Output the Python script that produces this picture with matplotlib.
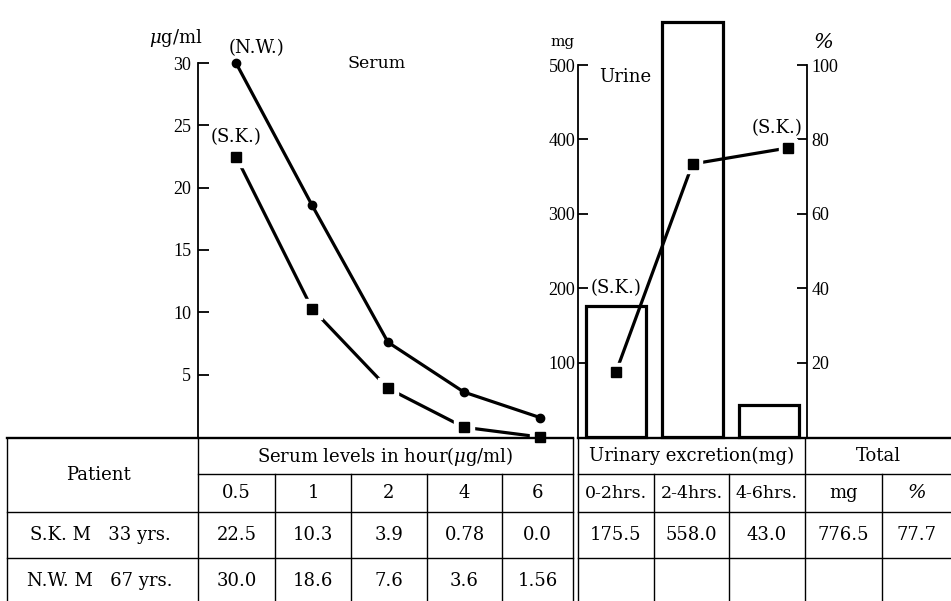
import matplotlib
matplotlib.use('Agg')
import matplotlib.pyplot as plt

# data
hours = ['0.5', '1', '2', '4', '6']
serum_sk = [22.5, 10.3, 3.9, 0.78, 0.0]
serum_nw = [30.0, 18.6, 7.6, 3.6, 1.56]
urine_periods = ['0-2hrs.', '2-4hrs.', '4-6hrs.']
urine_sk = [175.5, 558.0, 43.0]
pct_x = [0, 1, 2.25]          # where the cumulative % points sit
pct_sk = [17.6, 73.4, 77.7]
total_mg = 776.5
total_pct = 77.7
patients = ['S.K. M   33 yrs.', 'N.W. M   67 yrs.']

W, H = 951, 601
plt.rcParams['font.family'] = ['DejaVu Serif']
plt.rcParams['mathtext.fontset'] = 'dejavuserif'

fig = plt.figure(figsize=(W / 100, H / 100), dpi=100)


def rect(x0, y0, x1, y1):
    # pixel box (y from top) -> figure fraction
    return [x0 / W, 1 - y1 / H, (x1 - x0) / W, (y1 - y0) / H]


def tick_font(ax):
    for lab in ax.get_yticklabels():
        lab.set_fontfamily('Liberation Serif')
        lab.set_fontsize(13)


LW = 2.3
LS = 13

# ---- serum ----
ax1 = fig.add_axes(rect(198, 63, 578, 437))
xs = range(len(hours))
ax1.plot(xs, serum_nw, 'k-', lw=LW, marker='o', ms=6, clip_on=False, zorder=3)
ax1.plot(xs, serum_sk, 'k-', lw=LW, clip_on=False, zorder=3)
ax1.plot(xs, serum_sk, 's', color='white', ms=14, clip_on=False, zorder=4)
ax1.plot(xs, serum_sk, 's', color='black', ms=7.5, clip_on=False, zorder=5)
ax1.set_xlim(-0.5, 4.5)
ax1.set_ylim(0, 30)
ax1.set_yticks([5, 10, 15, 20, 25, 30])
ax1.tick_params(axis='y', direction='in', length=8, width=1.3, pad=5)
tick_font(ax1)
ax1.set_xticks([])
for s in ['top', 'right', 'bottom']:
    ax1.spines[s].set_visible(False)
ax1.spines['left'].set_linewidth(1.3)
ax1.patch.set_visible(False)
ax1.annotate('(N.W.)', (0, serum_nw[0]), xytext=(15, 11), textcoords='offset points',
             ha='center', va='center', fontsize=LS)
ax1.annotate('(S.K.)', (0, serum_sk[0]), xytext=(0, 14), textcoords='offset points',
             ha='center', va='center', fontsize=LS)
ax1.text(1.85, 30, 'Serum', ha='center', va='center', fontsize=12.5)
ax1.text(-0.79, 32.0, r'$\mu$g/ml', ha='center', va='center', fontsize=LS)

# ---- urine ----
ax2 = fig.add_axes(rect(578, 65, 807, 437))
ax2.bar(range(len(urine_periods)), urine_sk, width=0.79, facecolor='white',
        edgecolor='black', linewidth=LW, clip_on=False, zorder=2)
ax2.set_xlim(-0.5, 2.5)
ax2.set_ylim(0, 500)
ax2.set_yticks([100, 200, 300, 400, 500])
ax2.tick_params(axis='y', direction='in', length=7, width=1.3, pad=2)
tick_font(ax2)
ax2.set_xticks([])
for s in ['top', 'right', 'bottom']:
    ax2.spines[s].set_visible(False)
ax2.spines['left'].set_linewidth(1.3)
ax2.patch.set_visible(False)
ax2.text(0.12, 484, 'Urine', ha='center', va='center', fontsize=LS)
ax2.text(-0.7, 531, 'mg', ha='center', va='center', fontsize=11)

ax3 = ax2.twinx()
ax3.plot(pct_x, pct_sk, 'k-', lw=LW, zorder=3)
ax3.plot(pct_x, pct_sk, 's', color='white', ms=13, zorder=4)
ax3.plot(pct_x, pct_sk, 's', color='black', ms=7.5, zorder=5)
ax3.set_ylim(0, 100)
ax3.set_yticks([20, 40, 60, 80, 100])
ax3.tick_params(axis='y', direction='in', length=7, width=1.3, pad=3)
tick_font(ax3)
for s in ['top', 'left', 'bottom']:
    ax3.spines[s].set_visible(False)
ax3.spines['right'].set_linewidth(1.3)
ax3.annotate('(S.K.)', (pct_x[2], pct_sk[2]), xytext=(-8, 14), textcoords='offset points',
             ha='center', va='center', fontsize=LS)
ax3.annotate('(S.K.)', (pct_x[0], urine_sk[0] / 5), xytext=(0, 13), textcoords='offset points',
             ha='center', va='center', fontsize=LS)
ax3.text(2.72, 106, '%', ha='center', va='center', fontsize=15, style='italic')

# ---- table (pixel coordinates) ----
tab = fig.add_axes([0, 0, 1, 1])
tab.set_xlim(0, W)
tab.set_ylim(H, 0)
tab.axis('off')


def hline(y, x0, x1, lw=1.0):
    tab.plot([x0, x1], [y, y], 'k-', lw=lw)


def vline(x, y0, y1, lw=1.0):
    tab.plot([x, x], [y0, y1], 'k-', lw=lw)


top, r1, r2, r3, bot = 438, 474, 512, 558, 601
serum_edges = [198, 275, 351, 427, 502, 573]
urine_edges = [578, 654, 729, 805]
total_edges = [805, 882, 951]

hline(top, 7, 573, 1.7)
hline(top, 578, 951, 1.7)
hline(r1, 198, 573)
hline(r1, 578, 951)
hline(r2, 7, 573)
hline(r2, 578, 951)
hline(r3, 7, 573)
hline(r3, 578, 951)
vline(7, top, bot)
vline(198, top, bot)
vline(573, top, bot)
vline(578, top, bot)
vline(805, top, bot)
for x in serum_edges[1:-1] + urine_edges[1:-1] + total_edges[1:-1]:
    vline(x, r1, bot)

FS = 13
tab.text(98, (top + r2) / 2, 'Patient', ha='center', va='center', fontsize=FS)
tab.text((198 + 573) / 2, (top + r1) / 2, r'Serum levels in hour($\mu$g/ml)',
         ha='center', va='center', fontsize=FS)
tab.text((578 + 805) / 2, (top + r1) / 2, 'Urinary excretion(mg)',
         ha='center', va='center', fontsize=FS)
tab.text((805 + 951) / 2, (top + r1) / 2, 'Total', ha='center', va='center', fontsize=FS)

for i, h in enumerate(hours):
    cx = (serum_edges[i] + serum_edges[i + 1]) / 2
    tab.text(cx, (r1 + r2) / 2, h, ha='center', va='center', fontsize=FS)
    tab.text(cx, (r2 + r3) / 2, str(serum_sk[i]), ha='center', va='center', fontsize=FS)
    tab.text(cx, (r3 + bot) / 2 + 2, str(serum_nw[i]), ha='center', va='center', fontsize=FS)

for i, p in enumerate(urine_periods):
    cx = (urine_edges[i] + urine_edges[i + 1]) / 2
    tab.text(cx, (r1 + r2) / 2, p, ha='center', va='center', fontsize=FS - 0.5)
    tab.text(cx, (r2 + r3) / 2, str(urine_sk[i]), ha='center', va='center', fontsize=FS)

tab.text((805 + 882) / 2, (r1 + r2) / 2, 'mg', ha='center', va='center', fontsize=FS)
tab.text((882 + 951) / 2, (r1 + r2) / 2, '%', ha='center', va='center', fontsize=FS + 1, style='italic')
tab.text((805 + 882) / 2, (r2 + r3) / 2, str(total_mg), ha='center', va='center', fontsize=FS)
tab.text((882 + 951) / 2, (r2 + r3) / 2, str(total_pct), ha='center', va='center', fontsize=FS)

tab.text(100, (r2 + r3) / 2, patients[0], ha='center', va='center', fontsize=FS)
tab.text(100, (r3 + bot) / 2 + 2, patients[1], ha='center', va='center', fontsize=FS)

fig.savefig('out.png', dpi=100)
